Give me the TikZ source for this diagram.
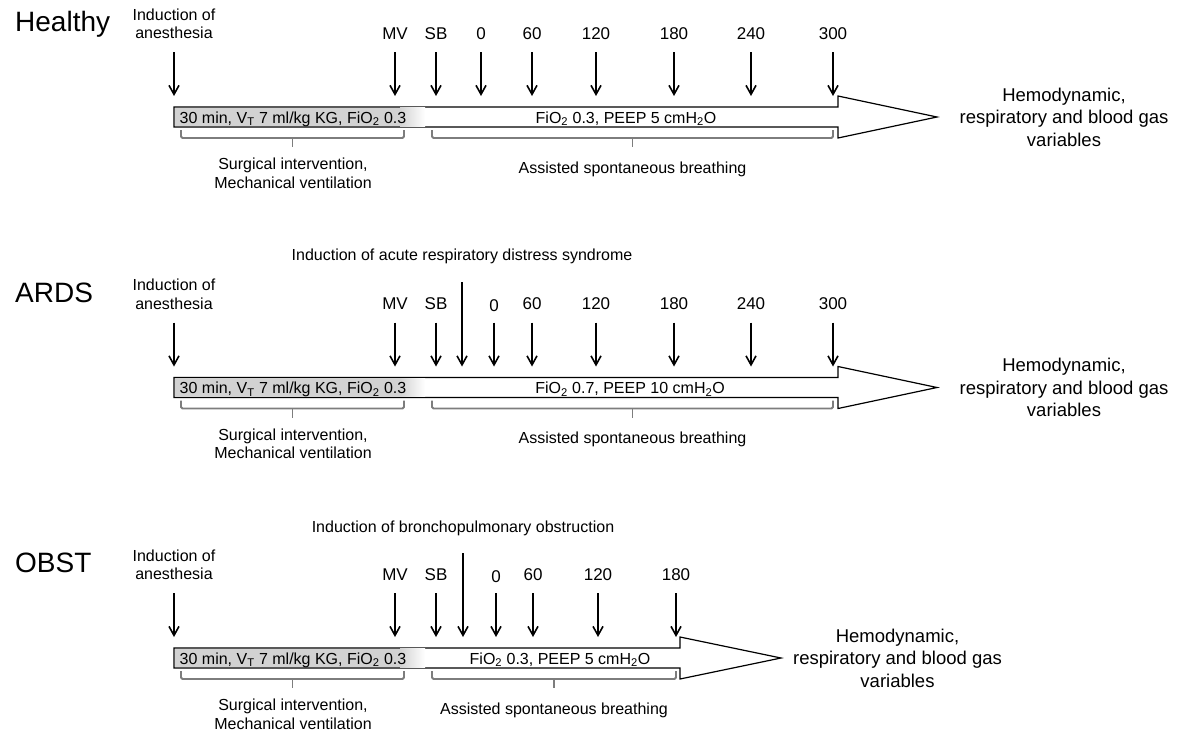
\documentclass[tikz,border=0pt]{standalone}
\usepackage{fontspec}
\setmainfont{Liberation Sans}
\usetikzlibrary{arrows.meta}
\definecolor{tlGris}{RGB}{210,210,210}
\definecolor{tlLlave}{RGB}{125,125,125}

\begin{document}
\begin{tikzpicture}[x=1pt, y=-1pt,
     titulo/.style={anchor=base west, inner sep=0pt, font=\fontsize{28}{32}\selectfont},
     etiq/.style={align=center, inner sep=0pt, font=\fontsize{16}{18.5}\selectfont},
     marca/.style={anchor=base, inner sep=0pt, font=\fontsize{17}{20}\selectfont},
     texto/.style={anchor=base, inner sep=0pt, font=\fontsize{16}{18.5}\selectfont},
     res/.style={align=center, inner sep=0pt, font=\fontsize{18.5}{22.5}\selectfont},
     fl/.style={-{Straight Barb[length=9pt,width=10pt]}, line width=1.6pt},
     barra/.style={draw=black, line width=1.2pt, fill=white, line join=miter},
     llave/.style={draw=tlLlave, line width=1.9pt, rounded corners=1.5pt}]
    \useasboundingbox (0,0) rectangle (1183,734);

    % Healthy
    \node[titulo] (hT) at (15,31.5) {Healthy};
    \node[etiq] (hAn) at (174,24) {Induction of\\anesthesia};
    \node[marca] (hMV) at (395,39) {MV};
    \node[marca] (hSB) at (436,39) {SB};
    \node[marca] (h0) at (481,39) {0};
    \node[marca] (h60) at (532,39) {60};
    \node[marca] (h120) at (596,39) {120};
    \node[marca] (h180) at (674,39) {180};
    \node[marca] (h240) at (751,39) {240};
    \node[marca] (h300) at (833,39) {300};
    \coordinate (hA) at (0,52);
    \coordinate (hB) at (0,96);
    \draw[barra] (174,107) -- (838,107) -- (838,96) -- (937,117) -- (838,138) -- (838,127) -- (174,127) -- cycle;
    \fill[tlGris] (174.6,107.6) rectangle (400,126.4);
    \shade[left color=tlGris, right color=white] (400,107.6) rectangle (425,126.4);
    \node[texto, anchor=base west] (hL) at (179.5,123.3) {30 min, V\textsubscript{T} 7 ml/kg KG, FiO\textsubscript{2} 0.3};
    \node[texto] (hR) at (626,123.3) {FiO\textsubscript{2} 0.3, PEEP 5 cmH\textsubscript{2}O};
    \draw[fl] (hAn |- hA) -- (hAn |- hB);
    \draw[fl] (hMV |- hA) -- (hMV |- hB);
    \draw[fl] (hSB |- hA) -- (hSB |- hB);
    \draw[fl] (h0 |- hA) -- (h0 |- hB);
    \draw[fl] (h60 |- hA) -- (h60 |- hB);
    \draw[fl] (h120 |- hA) -- (h120 |- hB);
    \draw[fl] (h180 |- hA) -- (h180 |- hB);
    \draw[fl] (h240 |- hA) -- (h240 |- hB);
    \draw[fl] (h300 |- hA) -- (h300 |- hB);
    \draw[llave] (181,130) -- (181,138) -- (404,138) -- (404,130);
    \draw[llave] (292.5,138) -- (292.5,147);
    \draw[llave] (432,130) -- (432,138) -- (833,138) -- (833,130);
    \draw[llave] (632.5,138) -- (632.5,147);
    \node[etiq] (hSI) at (293,173.5) {Surgical intervention,\\Mechanical ventilation};
    \node[texto] (hAS) at (632.5,173) {Assisted spontaneous breathing};
    \node[res] (hRes) at (1064,117) {Hemodynamic,\\respiratory and blood gas\\variables};

    % ARDS
    \node[titulo] (aT) at (15,302) {ARDS};
    \node[etiq] (aAn) at (174,294.5) {Induction of\\anesthesia};
    \node[texto] (aInd) at (462,260.7) {Induction of acute respiratory distress syndrome};
    \node[marca] (aMV) at (395,309.5) {MV};
    \node[marca] (aSB) at (436,309.5) {SB};
    \node[marca] (a0) at (494,311.5) {0};
    \node[marca] (a60) at (532,309.5) {60};
    \node[marca] (a120) at (596,309.5) {120};
    \node[marca] (a180) at (674,309.5) {180};
    \node[marca] (a240) at (751,309.5) {240};
    \node[marca] (a300) at (833,309.5) {300};
    \coordinate (aLong) at (0,282);
    \coordinate (aA) at (0,322.5);
    \coordinate (aB) at (0,366.5);
    \draw[barra] (174,377.5) -- (838,377.5) -- (838,366.5) -- (937,387.5) -- (838,408.5) -- (838,397.5) -- (174,397.5) -- cycle;
    \fill[tlGris] (174.6,378.1) rectangle (400,396.9);
    \shade[left color=tlGris, right color=white] (400,378.1) rectangle (425,396.9);
    \node[texto, anchor=base west] (aL) at (179.5,393.8) {30 min, V\textsubscript{T} 7 ml/kg KG, FiO\textsubscript{2} 0.3};
    \node[texto] (aR) at (630,393.8) {FiO\textsubscript{2} 0.7, PEEP 10 cmH\textsubscript{2}O};
    \draw[fl] (aAn |- aA) -- (aAn |- aB);
    \draw[fl] (aMV |- aA) -- (aMV |- aB);
    \draw[fl] (aSB |- aA) -- (aSB |- aB);
    \draw[fl] (aInd |- aLong) -- (aInd |- aB);
    \draw[fl] (a0 |- aA) -- (a0 |- aB);
    \draw[fl] (a60 |- aA) -- (a60 |- aB);
    \draw[fl] (a120 |- aA) -- (a120 |- aB);
    \draw[fl] (a180 |- aA) -- (a180 |- aB);
    \draw[fl] (a240 |- aA) -- (a240 |- aB);
    \draw[fl] (a300 |- aA) -- (a300 |- aB);
    \draw[llave] (181,400.5) -- (181,408.5) -- (404,408.5) -- (404,400.5);
    \draw[llave] (292.5,408.5) -- (292.5,417.5);
    \draw[llave] (432,400.5) -- (432,408.5) -- (833,408.5) -- (833,400.5);
    \draw[llave] (632.5,408.5) -- (632.5,417.5);
    \node[etiq] (aSI) at (293,444) {Surgical intervention,\\Mechanical ventilation};
    \node[texto] (aAS) at (632.5,443.5) {Assisted spontaneous breathing};
    \node[res] (aRes) at (1064,387.5) {Hemodynamic,\\respiratory and blood gas\\variables};

    % OBST
    \node[titulo] (oT) at (15,572.5) {OBST};
    \node[etiq] (oAn) at (174,565) {Induction of\\anesthesia};
    \node[texto] (oInd) at (463,532) {Induction of bronchopulmonary obstruction};
    \node[marca] (oMV) at (395,580) {MV};
    \node[marca] (oSB) at (436,580) {SB};
    \node[marca] (o0) at (496,582) {0};
    \node[marca] (o60) at (533,580) {60};
    \node[marca] (o120) at (598,580) {120};
    \node[marca] (o180) at (676,580) {180};
    \coordinate (oLong) at (0,553);
    \coordinate (oA) at (0,593);
    \coordinate (oB) at (0,637);
    \draw[barra] (174,648) -- (680,648) -- (680,637) -- (781,658) -- (680,679) -- (680,668) -- (174,668) -- cycle;
    \fill[tlGris] (174.6,648.6) rectangle (400,667.4);
    \shade[left color=tlGris, right color=white] (400,648.6) rectangle (425,667.4);
    \node[texto, anchor=base west] (oL) at (179.5,664.3) {30 min, V\textsubscript{T} 7 ml/kg KG, FiO\textsubscript{2} 0.3};
    \node[texto] (oR) at (560,664.3) {FiO\textsubscript{2} 0.3, PEEP 5 cmH\textsubscript{2}O};
    \draw[fl] (oAn |- oA) -- (oAn |- oB);
    \draw[fl] (oMV |- oA) -- (oMV |- oB);
    \draw[fl] (oSB |- oA) -- (oSB |- oB);
    \draw[fl] (oInd |- oLong) -- (oInd |- oB);
    \draw[fl] (o0 |- oA) -- (o0 |- oB);
    \draw[fl] (o60 |- oA) -- (o60 |- oB);
    \draw[fl] (o120 |- oA) -- (o120 |- oB);
    \draw[fl] (o180 |- oA) -- (o180 |- oB);
    \draw[llave] (181,671) -- (181,679) -- (404,679) -- (404,671);
    \draw[llave] (292.5,679) -- (292.5,688);
    \draw[llave] (432,671) -- (432,679) -- (676,679) -- (676,671);
    \draw[llave] (554,679) -- (554,688);
    \node[etiq] (oSI) at (293,714.5) {Surgical intervention,\\Mechanical ventilation};
    \node[texto] (oAS) at (554,714) {Assisted spontaneous breathing};
    \node[res] (oRes) at (897.5,658) {Hemodynamic,\\respiratory and blood gas\\variables};
  \end{tikzpicture}
\end{document}
